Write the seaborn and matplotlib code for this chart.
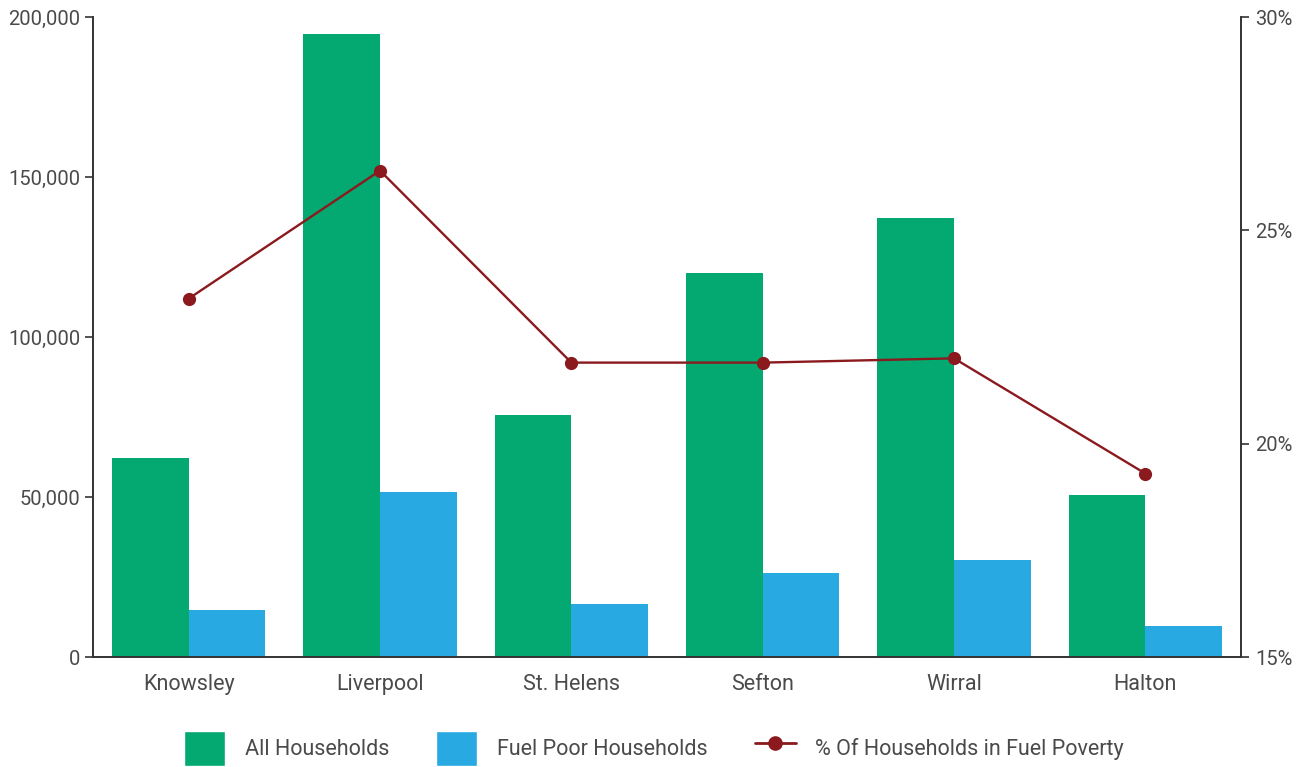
import pandas as pd
import numpy as np
import matplotlib
matplotlib.use("Agg")
import matplotlib.pyplot as plt
import matplotlib.ticker as mticker
from matplotlib.patches import Patch
from matplotlib.lines import Line2D
import seaborn as sns

areas = ["Knowsley", "Liverpool", "St. Helens", "Sefton", "Wirral", "Halton"]
all_households = [62200, 194700, 75600, 120000, 137200, 50600]
fuel_poor = [14700, 51600, 16600, 26300, 30300, 9700]
pct_fuel_poverty = [23.4, 26.4, 21.9, 21.9, 22.0, 19.3]

green = "#03A971"
blue = "#29A9E1"
red = "#8B1A1F"
txt = "#4a4a4a"

sns.set_style("white")
plt.rcParams["font.family"] = ["Roboto", "DejaVu Sans"]
plt.rcParams["text.color"] = txt
plt.rcParams["xtick.color"] = txt
plt.rcParams["ytick.color"] = txt

df = pd.DataFrame({
    "area": areas * 2,
    "value": all_households + fuel_poor,
    "series": ["All Households"] * 6 + ["Fuel Poor Households"] * 6,
})

fig = plt.figure(figsize=(13.08, 7.67), dpi=100)
ax = fig.add_axes([0.0711, 0.1434, 0.8777, 0.8344])
sns.barplot(data=df, x="area", y="value", hue="series", palette=[green, blue],
            width=0.8, gap=0, saturation=1, linewidth=0, ax=ax, legend=False)
ax.set_xlim(-0.5, 5.5)
ax.set_ylim(0, 200000)
ax.set_yticks([0, 50000, 100000, 150000, 200000])
ax.yaxis.set_major_formatter(mticker.FuncFormatter(lambda v, p: f"{int(v):,}"))
ax.set_xlabel("")
ax.set_ylabel("")

ax2 = ax.twinx()
sns.lineplot(x=np.arange(6), y=pct_fuel_poverty, color=red, marker="o",
             markersize=9.5, linewidth=1.7, markeredgewidth=0, ax=ax2)
ax2.set_ylim(15, 30)
ax2.set_yticks([15, 20, 25, 30])
ax2.yaxis.set_major_formatter(mticker.FuncFormatter(lambda v, p: f"{int(v)}%"))

for a in (ax, ax2):
    a.spines["top"].set_visible(False)
    for s in ("left", "right", "bottom"):
        a.spines[s].set_color("#333333")
        a.spines[s].set_linewidth(1.2)
    a.tick_params(axis="y", length=6, width=1.2, labelsize=14.5, color="#333333")
    a.tick_params(axis="x", length=0, labelsize=15.5, pad=12)
ax.tick_params(axis="y", pad=3)
ax2.tick_params(axis="y", pad=4)

handles = [
    Patch(facecolor=green, label="All Households"),
    Patch(facecolor=blue, label="Fuel Poor Households"),
    Line2D([0], [0], color=red, marker="o", markersize=9.5, linewidth=2,
           label="% Of Households in Fuel Poverty"),
]
fig.legend(handles=handles, loc="lower center", bbox_to_anchor=(0.5, -0.024),
           ncol=3, frameon=False, fontsize=15.5, handlelength=1.9,
           handleheight=2.1, columnspacing=2.2, handletextpad=0.9)

fig.savefig("out.png", dpi=100)
